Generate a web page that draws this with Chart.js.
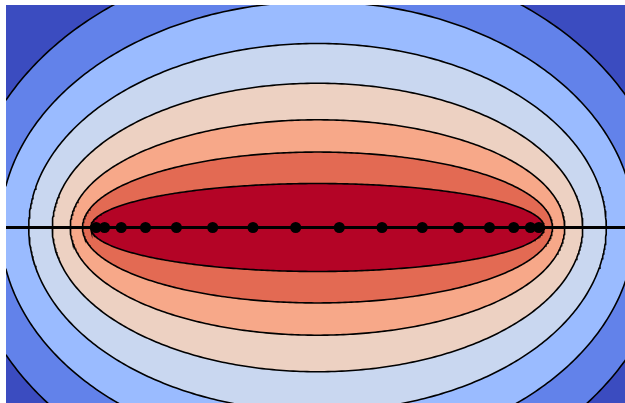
<!DOCTYPE html>
<html>
<head>
<meta charset="utf-8">
<script src="https://cdn.jsdelivr.net/npm/chart.js@4/dist/chart.umd.min.js"></script>
<style>
  html, body { margin: 0; padding: 0; background: #ffffff; overflow: hidden; width: 625px; height: 403px; }
  canvas { display: block; }
</style>
</head>
<body>
<canvas id="c" width="629" height="450"></canvas>
<script>
// Contour levels as Bernstein ellipse parameters rho (foci at -1 and +1), innermost first
const contourRho = [1.217, 1.395, 1.595, 1.84, 2.125, 2.44, 2.81];
// Band fill colours, innermost first; the last entry fills everything outside the outer contour
const bandColors = ['#B40426', '#E36A53', '#F7A889', '#EDD1C2', '#C9D7F0', '#9ABBFF', '#6282EA', '#3B4CC0'];
// Interpolation nodes on the interval [-1, 1]
const nodeX = [-0.995, -0.957, -0.882, -0.773, -0.634, -0.471, -0.290, -0.098,
                0.098,  0.290,  0.471,  0.634,  0.773,  0.882,  0.957,  0.995];
const nodeY = [0, 0, 0, 0, 0, 0, 0, 0, 0, 0, 0, 0, 0, 0, 0, 0];
// Real axis drawn across the whole plot
const axisLineX = [-1.4, 1.4];
const axisLineY = [0, 0];
// Plot limits
const xLimits = [-1.4, 1.4];
const yLimits = [-1, 1];

// Trace one half (upper: sign = 1, lower: sign = -1) of the ellipse for a given rho
function ellipseHalf(rho, sign) {
  const a = (rho + 1 / rho) / 2;
  const b = (rho - 1 / rho) / 2;
  const pts = [];
  const steps = 240;
  for (let k = 0; k <= steps; k++) {
    const t = Math.PI - (Math.PI * k) / steps;
    pts.push({ x: a * Math.cos(t), y: sign * b * Math.sin(t) });
  }
  return pts;
}

const datasets = [];

datasets.push({
  label: 'nodes',
  data: nodeX.map((x, i) => ({ x, y: nodeY[i] })),
  showLine: false,
  pointRadius: 5.5,
  pointBackgroundColor: '#000000',
  pointBorderColor: '#000000',
  pointBorderWidth: 0,
  order: 0
});

datasets.push({
  label: 'axis',
  data: axisLineX.map((x, i) => ({ x, y: axisLineY[i] })),
  showLine: true,
  borderColor: '#000000',
  borderWidth: 3,
  pointRadius: 0,
  fill: false,
  order: 1
});

contourRho.forEach((rho, i) => {
  [1, -1].forEach(sign => {
    datasets.push({
      label: 'level ' + i,
      data: ellipseHalf(rho, sign),
      showLine: true,
      borderColor: '#000000',
      borderWidth: 1.6,
      backgroundColor: bandColors[i],
      pointRadius: 0,
      tension: 0,
      fill: 'origin',
      order: 2 + i
    });
  });
});

const backgroundBand = {
  id: 'backgroundBand',
  beforeDatasetsDraw(chart) {
    const { ctx, chartArea } = chart;
    ctx.save();
    ctx.fillStyle = bandColors[bandColors.length - 1];
    ctx.fillRect(chartArea.left, chartArea.top, chartArea.right - chartArea.left, chartArea.bottom - chartArea.top);
    ctx.restore();
  }
};

new Chart(document.getElementById('c'), {
  type: 'scatter',
  data: { datasets },
  options: {
    responsive: false,
    animation: false,
    events: [],
    layout: { autoPadding: false, padding: { left: 6, top: 5, right: 0, bottom: 0 } },
    plugins: {
      legend: { display: false },
      tooltip: { enabled: false },
      title: { display: false }
    },
    scales: {
      x: { type: 'linear', min: xLimits[0], max: xLimits[1], display: false },
      y: { type: 'linear', min: yLimits[0], max: yLimits[1], display: false }
    }
  },
  plugins: [backgroundBand]
});
</script>
</body>
</html>
